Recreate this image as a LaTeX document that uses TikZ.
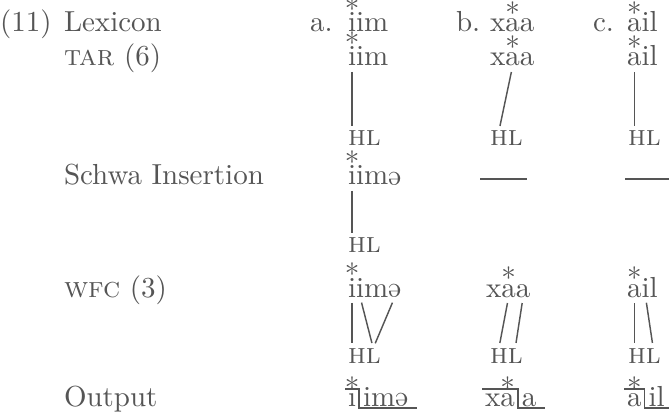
\documentclass[tikz,border=0pt]{standalone}
\usetikzlibrary{calc}
\usepackage{graphicx}
\definecolor{ink}{RGB}{85,85,85}
\newcommand{\myschwa}{\rotatebox[origin=c]{180}{e}}
\begin{document}
\begin{tikzpicture}[x=0.345pt,y=0.345pt,
  every node/.style={inner sep=0pt, outer sep=0pt, text=ink, font=\fontsize{10}{12}\selectfont},
  glyph/.style={anchor=base west},
  starmark/.style={anchor=base},
  assoc/.style={draw=ink, line width=0.5pt, shorten <=2pt, shorten >=1.8pt},
  rulebar/.style={draw=ink, line width=0.55pt}]
\useasboundingbox[fill=white] (0,0) rectangle (669,-413);

% row labels
\node[glyph] (ex) at (0,-32) {(11)};
\node[glyph] (lex) at (64,-32) {Lexicon};
\node[glyph] (tar) at (64,-66) {\textsc{tar} (6)};
\node[glyph] (schwa) at (64,-185) {Schwa Insertion};
\node[glyph] (wfc) at (64,-297) {\textsc{wfc} (3)};
\node[glyph] (out) at (64,-406) {Output};

% column labels
\node[glyph] (la) at (310,-32) {a.};
\node[glyph] (lb) at (456,-32) {b.};
\node[glyph] (lc) at (593,-32) {c.};

% ---------- Row 1: Lexicon
\node[glyph] (a1i) at (348,-32) {i};
\node[glyph] (a1j) at (a1i.base east) {i};
\node[glyph] (a1m) at (a1j.base east) {m};
\node[starmark] (a1s) at ($(a1i.north)+(0,-7)$) {*};

\node[glyph] (b1x) at (490,-32) {x};
\node[glyph] (b1a) at (b1x.base east) {a};
\node[glyph] (b1b) at (b1a.base east) {a};
\node[starmark] (b1s) at ($(b1a.north)+(0,-4)$) {*};

\node[glyph] (c1a) at (627,-32) {a};
\node[glyph] (c1i) at (c1a.base east) {i};
\node[glyph] (c1l) at (c1i.base east) {l};
\node[starmark] (c1s) at ($(c1a.north)+(0,-4)$) {*};

% ---------- Row 2: TAR
\node[glyph] (a2i) at (348,-66) {i};
\node[glyph] (a2j) at (a2i.base east) {i};
\node[glyph] (a2m) at (a2j.base east) {m};
\node[starmark] (a2s) at ($(a2i.north)+(0,-7)$) {*};

\node[glyph] (b2x) at (490,-66) {x};
\node[glyph] (b2a) at (b2x.base east) {a};
\node[glyph] (b2b) at (b2a.base east) {a};
\node[starmark] (b2s) at ($(b2a.north)+(0,-4)$) {*};

\node[glyph] (c2a) at (627,-66) {a};
\node[glyph] (c2i) at (c2a.base east) {i};
\node[glyph] (c2l) at (c2i.base east) {l};
\node[starmark] (c2s) at ($(c2a.north)+(0,-4)$) {*};

\node[glyph] (a2H) at (348,-146) {\textsc{h}};
\node[glyph] (a2L) at (a2H.base east) {\textsc{l}};
\node[glyph] (b2H) at (490,-146) {\textsc{h}};
\node[glyph] (b2L) at (b2H.base east) {\textsc{l}};
\node[glyph] (c2H) at (628,-146) {\textsc{h}};
\node[glyph] (c2L) at (c2H.base east) {\textsc{l}};

\draw[assoc] (a2i.south) -- (a2i.south |- a2H.north);
\draw[assoc] (b2a.south) -- (b2H.north);
\draw[assoc] (c2a.south) -- (c2a.south |- c2H.north);

% ---------- Row 3: Schwa Insertion
\node[glyph] (a3i) at (348,-185) {i};
\node[glyph] (a3j) at (a3i.base east) {i};
\node[glyph] (a3m) at (a3j.base east) {m};
\node[glyph] (a3e) at (a3m.base east) {\myschwa};
\node[starmark] (a3s) at ($(a3i.north)+(0,-7)$) {*};

\node[glyph] (a3H) at (348,-253) {\textsc{h}};
\node[glyph] (a3L) at (a3H.base east) {\textsc{l}};
\draw[assoc] (a3i.south) -- (a3i.south |- a3H.north);

\coordinate (b3l) at (480,-179);
\coordinate (b3r) at (527,-179);
\coordinate (c3l) at (625,-179);
\coordinate (c3r) at (669,-179);
\draw[rulebar] (b3l) -- (b3r);
\draw[rulebar] (c3l) -- (c3r);

% ---------- Row 4: WFC
\node[glyph] (a4i) at (348,-297) {i};
\node[glyph] (a4j) at (a4i.base east) {i};
\node[glyph] (a4m) at (a4j.base east) {m};
\node[glyph] (a4e) at (a4m.base east) {\myschwa};
\node[starmark] (a4s) at ($(a4i.north)+(0,-7)$) {*};

\node[glyph] (b4x) at (486,-297) {x};
\node[glyph] (b4a) at (b4x.base east) {a};
\node[glyph] (b4b) at (b4a.base east) {a};
\node[starmark] (b4s) at ($(b4a.north)+(0,-4)$) {*};

\node[glyph] (c4a) at (627,-297) {a};
\node[glyph] (c4i) at (c4a.base east) {i};
\node[glyph] (c4l) at (c4i.base east) {l};
\node[starmark] (c4s) at ($(c4a.north)+(0,-4)$) {*};

\node[glyph] (a4H) at (348,-363) {\textsc{h}};
\node[glyph] (a4L) at (a4H.base east) {\textsc{l}};
\node[glyph] (b4H) at (490,-363) {\textsc{h}};
\node[glyph] (b4L) at (b4H.base east) {\textsc{l}};
\node[glyph] (c4H) at (628,-363) {\textsc{h}};
\node[glyph] (c4L) at (c4H.base east) {\textsc{l}};

\draw[assoc] (a4i.south) -- (a4i.south |- a4H.north);
\draw[assoc] (a4j.south) -- (a4L.north);
\draw[assoc] (a4e.south) -- (a4L.north);
\draw[assoc] (b4a.south) -- (b4H.north);
\draw[assoc] (b4b.south) -- (b4L.north);
\draw[assoc] (c4a.south) -- (c4a.south |- c4H.north);
\draw[assoc] (c4i.south) -- (c4L.north);

% ---------- Row 5: Output
\node[glyph] (aOi) at (348,-406) {\i};
\node[glyph] (aOr) at ($(aOi.base east)+(7,0)$) {im\myschwa};
\node[starmark] (aOs) at ($(aOi.north)+(0,-5)$) {*};
\draw[rulebar] ($(aOi.base west)+(-3,17)$) -- ($(aOi.base east)+(3,17)$)
  -- ($(aOi.base east)+(3,-2)$) -- ($(aOr.base east)+(9,-2)$);

\node[glyph] (bOx) at (485,-406) {x};
\node[glyph] (bOa) at (bOx.base east) {a};
\node[glyph] (bOb) at ($(bOa.base east)+(7,0)$) {a};
\node[starmark] (bOs) at ($(bOa.north)+(0,-5)$) {*};
\draw[rulebar] ($(bOx.base west)+(-3,17)$) -- ($(bOa.base east)+(3,17)$)
  -- ($(bOa.base east)+(3,-2)$) -- ($(bOb.base east)+(9,-2)$);

\node[glyph] (cOa) at (627,-406) {a};
\node[glyph] (cOr) at ($(cOa.base east)+(7,0)$) {il};
\node[starmark] (cOs) at ($(cOa.north)+(0,-5)$) {*};
\draw[rulebar] ($(cOa.base west)+(-3,17)$) -- ($(cOa.base east)+(3,17)$)
  -- ($(cOa.base east)+(3,-2)$) -- ($(cOr.base east)+(9,-2)$);
\end{tikzpicture}
\end{document}
